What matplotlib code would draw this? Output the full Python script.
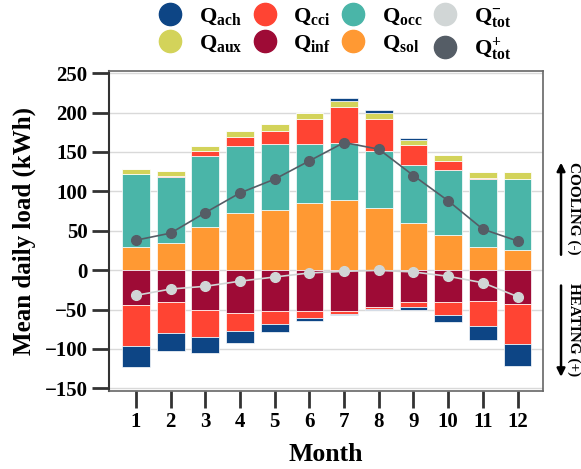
import numpy as np
import matplotlib
matplotlib.use("Agg")
import matplotlib.pyplot as plt
from matplotlib.lines import Line2D

plt.rcParams['font.family'] = ['Liberation Serif', 'DejaVu Serif']
plt.rcParams['font.weight'] = 'bold'
plt.rcParams['mathtext.fontset'] = 'custom'
plt.rcParams['mathtext.rm'] = 'Liberation Serif:bold'
plt.rcParams['mathtext.it'] = 'Liberation Serif:bold'
plt.rcParams['mathtext.bf'] = 'Liberation Serif:bold'

# Среднесуточные нагрузки по месяцам (кВт·ч)
months = np.arange(1, 13)
q_sol = [29, 35, 55, 72, 76, 85, 89, 79, 60, 45, 30, 25]
q_occ = [93, 83, 90.5, 85, 84, 75, 72, 72.4, 73.6, 82.7, 85.5, 91]
q_cci_pos = [0, 2, 6, 12, 17, 31.6, 46, 40.6, 25, 10.3, 2, 0]
q_aux = [6.7, 6, 6.6, 7, 8, 7.4, 8, 8, 6.8, 8, 7.2, 8]
q_ach_pos = [0, 0, 0, 0, 0, 0.6, 3, 3, 2.6, 0, 0, 0]

q_inf = [-44.6, -40.8, -51, -54, -52, -52, -51.4, -46.3, -40, -40, -38.7, -43]
q_cci_neg = [-51.2, -39.2, -33.8, -23, -16, -8.7, -4.2, -3.4, -7, -16.5, -32.6, -50.7]
q_ach_neg = [-27.2, -22.6, -20.7, -15, -10, -4.3, -1.4, -1.3, -3, -8.9, -16.9, -27.5]

q_tot_plus = [38, 47, 73, 98, 115.5, 138.7, 162, 153.5, 120, 88, 52, 37]
q_tot_minus = [-32, -24, -20.5, -14, -8.7, -3.6, -1.5, -0.3, -2.3, -7.8, -16, -33.6]

colors = {
    'ach': '#0d4585', 'cci': '#ff4433', 'occ': '#4ab5a8', 'tot_m': '#d1d6d6',
    'aux': '#d3d35a', 'inf': '#9e0b36', 'sol': '#ff9933', 'tot_p': '#555d66',
}

fig = plt.figure(figsize=(5.81, 4.69), dpi=100)
ax = fig.add_axes([0.188, 0.167, 0.747, 0.682])

# Положительные составляющие (охлаждение)
bottom = np.zeros(12)
for vals, key in [(q_sol, 'sol'), (q_occ, 'occ'), (q_cci_pos, 'cci'),
                  (q_aux, 'aux'), (q_ach_pos, 'ach')]:
    ax.bar(months, vals, 0.8, bottom=bottom, color=colors[key],
           edgecolor='white', linewidth=0.5, zorder=2)
    bottom += np.array(vals)

# Отрицательные составляющие (отопление)
bottom = np.zeros(12)
for vals, key in [(q_inf, 'inf'), (q_cci_neg, 'cci'), (q_ach_neg, 'ach')]:
    ax.bar(months, vals, 0.8, bottom=bottom, color=colors[key],
           edgecolor='white', linewidth=0.5, zorder=2)
    bottom += np.array(vals)

ax.plot(months, q_tot_plus, '-o', color=colors['tot_p'], lw=1.2, ms=7, zorder=3)
ax.plot(months, q_tot_minus, '-o', color=colors['tot_m'], lw=1.2, ms=7, zorder=3)

ax.set_xlim(0.23, 12.74)
ax.set_ylim(-153, 253)
ax.set_yticks(np.arange(-150, 251, 50))
ax.set_xticks(months)
ax.grid(axis='y', color='#d9d9d9', lw=1, zorder=0)
ax.set_axisbelow(True)

ax.tick_params(axis='both', length=12, width=2, labelsize=15, color='#333333')
ax.spines['left'].set_color('#333333')
ax.spines['left'].set_linewidth(1.5)
for s in ['top', 'right', 'bottom']:
    ax.spines[s].set_color('#666666')
    ax.spines[s].set_linewidth(1.2)

ax.set_xlabel('Month', fontsize=18.5, fontweight='bold', labelpad=8)
ax.set_ylabel('Mean daily load (kWh)', fontsize=18, fontweight='bold', labelpad=6)

# Стрелки и подписи справа
ax.annotate('', xy=(1.041, 140), xytext=(1.041, 16),
            xycoords=('axes fraction', 'data'), textcoords=('axes fraction', 'data'),
            arrowprops=dict(arrowstyle='-|>', color='black', lw=1.8, mutation_scale=12))
ax.annotate('', xy=(1.041, -139), xytext=(1.041, -16),
            xycoords=('axes fraction', 'data'), textcoords=('axes fraction', 'data'),
            arrowprops=dict(arrowstyle='-|>', color='black', lw=1.8, mutation_scale=12))
ax.text(1.07, 137, 'COOLING (-)', transform=ax.get_yaxis_transform(),
        rotation=-90, ha='center', va='top', fontsize=11, clip_on=False)
ax.text(1.07, -16, 'HEATING (+)', transform=ax.get_yaxis_transform(),
        rotation=-90, ha='center', va='top', fontsize=11, clip_on=False)

# Легенда
items = [('ach', r'$\mathrm{Q_{ach}}$'), ('aux', r'$\mathrm{Q_{aux}}$'),
         ('cci', r'$\mathrm{Q_{cci}}$'), ('inf', r'$\mathrm{Q_{inf}}$'),
         ('occ', r'$\mathrm{Q_{occ}}$'), ('sol', r'$\mathrm{Q_{sol}}$'),
         ('tot_m', r'$\mathrm{Q^{-}_{tot}}$'), ('tot_p', r'$\mathrm{Q^{+}_{tot}}$')]
handles = [Line2D([], [], ls='none', marker='o', ms=16, color=colors[k]) for k, _ in items]
fig.legend(handles, [l for _, l in items], ncol=4, loc='upper center',
           bbox_to_anchor=(0.575, 1.03), frameon=False, fontsize=16,
           handlelength=1.2, handletextpad=0.7, columnspacing=0.4, labelspacing=0.3)

fig.savefig('out.png', dpi=100)
